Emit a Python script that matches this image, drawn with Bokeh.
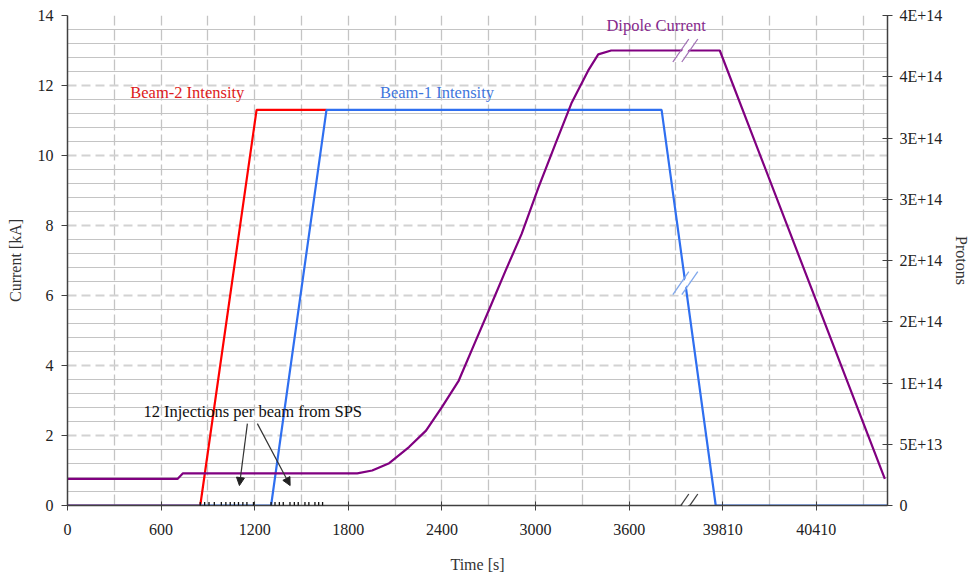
import numpy as np
from bokeh.plotting import figure
from bokeh.models import Range1d, LinearAxis, FixedTicker, Grid, Arrow, NormalHead, PolyAnnotation
from bokeh.core.properties import value
from bokeh.embed import file_html
from bokeh.resources import INLINE

# ---------------- data ----------------
# The time axis is broken: times after the break are drawn shifted back by BREAK_SHIFT
BREAK_SHIFT = 35610          # 39810 s is drawn where 4200 s would be
BREAK_AT = 3960              # axis position of the break marks
X_END = 5256                 # axis position of the right edge

time_ticks = [0, 600, 1200, 1800, 2400, 3000, 3600, 4200, 4800]
time_tick_labels = ["0", "600", "1200", "1800", "2400", "3000", "3600", "39810", "40410"]
time_grid = [0, 300, 600, 900, 1200, 1500, 1800, 2100, 2400, 2700, 3000, 3300, 3600,
             3900, 4200, 4500, 4800, 5100]

current_ticks = [0, 2, 4, 6, 8, 10, 12, 14]
proton_ticks = [0, 5e13, 1e14, 1.5e14, 2e14, 2.5e14, 3e14, 3.5e14, 4e14]
proton_tick_labels = ["0", "5E+13", "1E+14", "2E+14", "2E+14", "3E+14", "3E+14", "4E+14", "4E+14"]

# Dipole current [kA] vs real time [s]
dipole_t = [0, 705, 740, 1857, 1953, 2062, 2189, 2298, 2400, 2508, 2617, 2700, 2808,
            2911, 3019, 3128, 3230, 3338, 3402, 3485, 39791, 40849]
dipole_kA = [0.76, 0.76, 0.92, 0.92, 1.00, 1.21, 1.67, 2.14, 2.81, 3.57, 4.71, 5.57, 6.71,
             7.76, 9.09, 10.34, 11.49, 12.43, 12.89, 13.0, 13.0, 0.76]

# Beam intensities [protons] vs real time [s]
beam2_t = [0, 851, 1212, 1660]
beam2_p = [0, 0, 3.23e14, 3.23e14]
beam1_t = [0, 1305, 1660, 3808, 39765, 40866]
beam1_p = [0, 0, 3.23e14, 3.23e14, 0, 0]

# SPS injection times [s]
beam2_inj = [851, 879, 907, 941, 986, 1015, 1043, 1070, 1096, 1124, 1150, 1192]
beam1_inj = [1305, 1330, 1358, 1383, 1426, 1454, 1479, 1522, 1547, 1586, 1610, 1635]


def shown(ts):
    return [t if t < 4000 else t - BREAK_SHIFT for t in ts]


# ---------------- figure ----------------
SERIF = "Liberation Serif"
FW, FH = 823, 490  # frame size in px
ux = X_END / FW
uy = 14.0 / FH

p = figure(width=973, height=582, output_backend="svg", toolbar_location=None,
           x_range=Range1d(0, X_END), y_range=Range1d(0, 14),
           min_border_left=67, min_border_right=83, min_border_top=15, min_border_bottom=77)
p.extra_y_ranges = {"protons": Range1d(0, 4e14)}
p.outline_line_color = None
p.background_fill_color = "white"

# grids
p.xgrid.ticker = FixedTicker(ticks=time_grid)
p.xgrid.grid_line_color = "#c4c4c4"
p.xgrid.grid_line_width = 1.3
p.xgrid.grid_line_dash = "11 4"
p.ygrid.ticker = FixedTicker(ticks=current_ticks)
p.ygrid.grid_line_color = "#d2d2d2"
p.ygrid.grid_line_width = 2
p.ygrid.grid_line_dash = "9 5"
minor_y = [round(v, 1) for v in np.arange(0.4, 14, 0.4) if abs(v / 2 - round(v / 2)) > 0.05]
p.add_layout(Grid(dimension=1, ticker=FixedTicker(ticks=minor_y),
                  grid_line_color="#c4c4c4", grid_line_width=1.2), "center")

AX = "#404040"


def style_axis(ax):
    ax.axis_line_color = AX
    ax.axis_line_width = 1.5
    ax.major_tick_line_color = AX
    ax.minor_tick_line_color = None
    ax.major_label_text_font = SERIF
    ax.major_label_text_font_size = "16px"
    ax.major_label_text_color = "#222222"
    ax.axis_label_text_font = SERIF
    ax.axis_label_text_font_size = "16px"
    ax.axis_label_text_font_style = "normal"
    ax.axis_label_text_color = "#333333"


xa = p.xaxis[0]
xa.ticker = FixedTicker(ticks=time_ticks)
xa.major_label_overrides = {t: s for t, s in zip(time_ticks, time_tick_labels)}
xa.axis_label = "Time [s]"
style_axis(xa)
xa.major_tick_in = 4
xa.major_tick_out = 5
xa.major_label_standoff = 13
xa.axis_label_standoff = 18

ya = p.yaxis[0]
ya.ticker = FixedTicker(ticks=current_ticks)
ya.axis_label = "Current [kA]"
style_axis(ya)
ya.major_tick_in = 0
ya.major_tick_out = 6
ya.major_label_standoff = 8
ya.axis_label_standoff = 11

ra = LinearAxis(y_range_name="protons", ticker=FixedTicker(ticks=proton_ticks),
                major_label_overrides={t: s for t, s in zip(proton_ticks, proton_tick_labels)},
                axis_label="Protons")
style_axis(ra)
ra.major_tick_in = 5
ra.major_tick_out = 5
ra.major_label_standoff = 7
ra.axis_label_standoff = 8
p.add_layout(ra, "right")

# ---------------- series ----------------
RED, BLUE, PURPLE = "#ff0000", "#2f6ff0", "#800080"
p.line(shown(beam2_t), beam2_p, y_range_name="protons", line_color=RED, line_width=2.2)
p.line(shown(beam1_t), beam1_p, y_range_name="protons", line_color=BLUE, line_width=2.2)
p.line(shown(dipole_t), dipole_kA, line_color=PURPLE, line_width=2.2)

# injection marks (short ticks crossing the time axis)
for t in beam2_inj + beam1_inj:
    p.add_layout(Arrow(end=None, x_start=t, y_start=-3.5 * uy, x_end=t, y_end=3.5 * uy,
                       line_color="#111111", line_width=1.3))

# ---------------- annotations ----------------
def txt(x, y, s, color):
    p.text(x=[x], y=[y], text=[s], text_font=value(SERIF), text_font_size="16.5px",
           text_color=color, text_align="center", text_baseline="middle")


txt(768, 11.8, "Beam-2 Intensity", "#dd2020")
txt(2368, 11.8, "Beam-1 Intensity", "#3f76dc")
txt(3773, 13.71, "Dipole Current", "#862a8c")
txt(1187, 2.69, "12 Injections per beam from SPS", "#111111")

for (xs, ys, xe, ye) in [(1153, 2.34, 1102, 0.57), (1217, 2.34, 1427, 0.57)]:
    p.add_layout(Arrow(end=NormalHead(size=8, fill_color="#222222", line_color="#222222"),
                       x_start=xs, y_start=ys, x_end=xe, y_end=ye,
                       line_color="#333333", line_width=1.2))

# break marks
def break_mark(cx, cy, color):
    hx, hy, sep = 8, 11.5, 4.5
    p.add_layout(PolyAnnotation(
        xs=[cx + (-sep - hx + 1.5) * ux, cx + (sep - hx - 1.5) * ux,
            cx + (sep + hx - 1.5) * ux, cx + (-sep + hx + 1.5) * ux],
        ys=[cy - hy * uy, cy - hy * uy, cy + hy * uy, cy + hy * uy],
        fill_color="white", fill_alpha=1, line_color=None))
    for off in (-sep, sep):
        p.add_layout(Arrow(end=None, x_start=cx + (off - hx) * ux, y_start=cy - hy * uy,
                           x_end=cx + (off + hx) * ux, y_end=cy + hy * uy,
                           line_color=color, line_width=1.3))


blue_at_break = float(np.interp(BREAK_AT, shown(beam1_t), beam1_p)) * 14 / 4e14
dip_at_break = float(np.interp(BREAK_AT, shown(dipole_t), dipole_kA))
break_mark(BREAK_AT, 0, AX)
break_mark(BREAK_AT, dip_at_break, "#a070b4")
break_mark(BREAK_AT, blue_at_break, "#80a8ec")

open("out.html", "w").write(file_html(p, INLINE))
